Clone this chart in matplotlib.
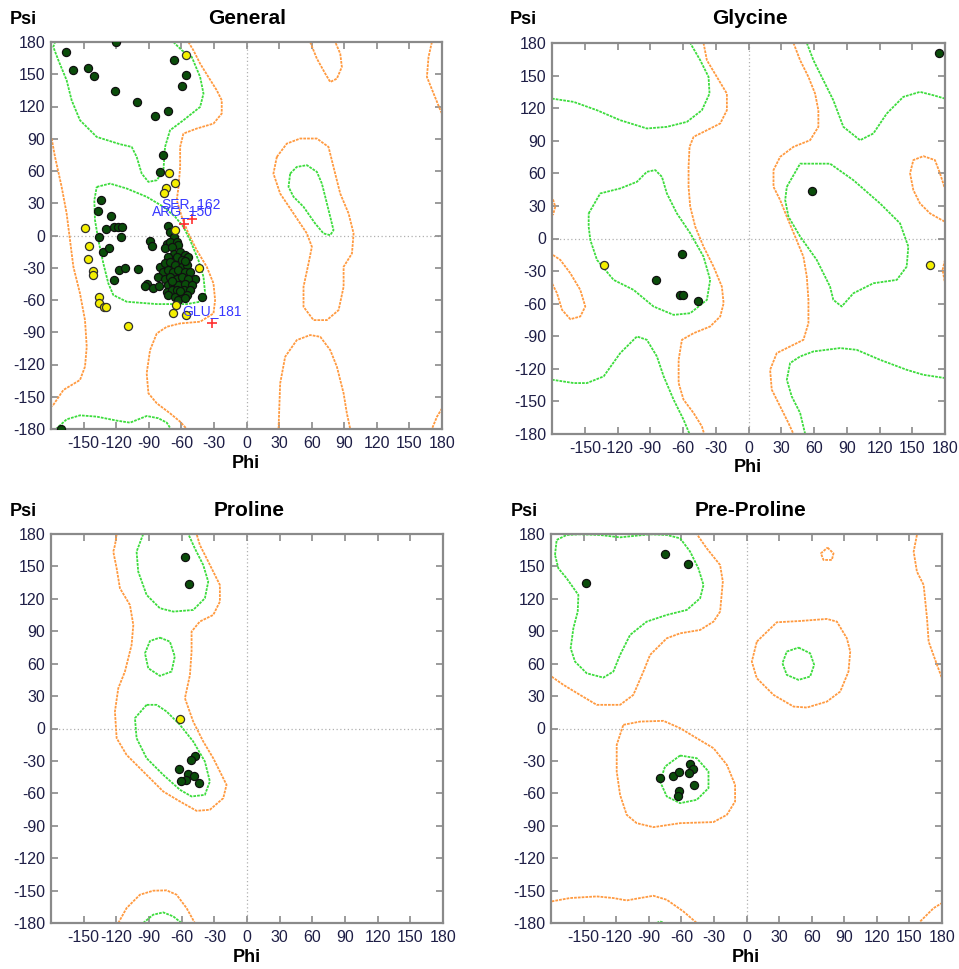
import numpy as np
import matplotlib.pyplot as plt

# ---- figure geometry (pixels) ----
W, H = 959, 969

# ---- General: residues (phi, psi) ----
gen_core = [(-120, 180), (-171, -180), (-166, 171), (-160, 154), (-146, 156), (-140, 148),
            (-121, 134), (-101, 124), (-84, 111), (-72, 116), (-67, 163), (-59, 139),
            (-56, 149), (-77, 75), (-80, 59),
            (-134, 33), (-137, 23), (-125, 18), (-129, 6), (-122, 7.5), (-118, 7.5),
            (-115, 7.5), (-136, -1), (-116, -1), (-132, -15), (-127, -11.5), (-117, -32),
            (-112, -30), (-100, -31), (-122, -41.5), (-89, -5), (-87, -10), (-92, -45),
            (-93, -47), (-86, -49), (-81, -47),
            (-72.5, 9), (-70.7, 3.4), (-66.4, -1.3), (-73.4, -7.5), (-70, -5.9), (-64.2, -5.9),
            (-62.7, -9), (-75, -12), (-68.8, -10.6), (-66.4, -16.8), (-61.2, -15.2),
            (-71.9, -19.9), (-64.2, -19.9), (-56.5, -18.3), (-53.5, -19.9), (-59.6, -23),
            (-79.6, -29.2), (-75, -26), (-70.4, -24.5), (-65.7, -27.6), (-59.6, -29.2),
            (-55, -27.6), (-76.5, -33.8), (-71.9, -32.3), (-67.3, -33.8), (-62.7, -32.3),
            (-56.5, -33.8), (-52, -33.8), (-47.3, -40), (-81.1, -38.5), (-75, -40),
            (-70.4, -38.5), (-64.2, -40), (-59.6, -38.5), (-53.5, -40), (-71.9, -46.2),
            (-67.3, -44.7), (-62.7, -46.2), (-56.5, -44.7), (-50.4, -46.2), (-73.4, -52.4),
            (-68.8, -50.9), (-64.2, -50.9), (-58, -50.9), (-51.9, -50.9), (-71.9, -55.5),
            (-65.7, -57), (-59.6, -55.5), (-55, -55.5), (-62.7, -60.1), (-56.5, -58.6),
            (-41.2, -57), (-57, -24), (-69, -42), (-61, -52)]
gen_allowed = [(-55.6, 168), (-71, 58), (-66, 48.6), (-74.3, 44), (-76, 39.7), (-65.4, 5),
               (-148.4, 7.4), (-145.3, -9.6), (-146, -22), (-141, -33), (-141, -36.5),
               (-135.8, -57), (-135.4, -63), (-131.5, -66.6), (-129, -66.6), (-108.7, -84.6),
               (-43.6, -30), (-65, -64.7), (-67.9, -72.5), (-56, -73.7)]
gen_outliers = [(-50.4, 15.8), (-57.8, 10.5), (-31.4, -81.8)]
gen_out_names = ["SER_162", "ARG_150", "GLU_181"]
gen_out_text_pos = [(-78, 29), (-86.6, 23), (-59.6, -70)]

# ---- General contours ----
gen_green = [
    [(-67.3, 180), (-59.6, 172.3), (-50.4, 166.1), (-42.7, 147.5), (-39.6, 132), (-42.7, 119.6),
     (-58.1, 107.2), (-70.4, 97.9), (-75, 82.4), (-76.5, 60.7), (-82.6, 51.4), (-90.3, 49.9),
     (-96.5, 57.6), (-101.1, 73.1), (-105.7, 82.4), (-116.4, 84.9), (-137.9, 91.7),
     (-153.3, 107.2), (-161, 125.8), (-165.6, 144.4), (-173.2, 163), (-177.9, 175.4), (-176.3, 180)],
    [(-175.4, -180), (-165.6, -171), (-153.3, -167.3), (-137.9, -168.5), (-119.5, -172.2),
     (-107.2, -174.1), (-91.9, -167.9), (-81.1, -170), (-73.4, -174.1), (-69.7, -180)],
    [(-137.9, 45.2), (-125.6, 48.3), (-110.3, 43.7), (-91.9, 36), (-76.5, 26.7), (-65.7, 17.4),
     (-58.1, 8.1), (-51.9, -4.3), (-44.3, -22.9), (-39.6, -38.4), (-38.1, -53.9), (-42.7, -61.6),
     (-55, -63.8), (-82.6, -63.8), (-110.3, -61.6), (-122.6, -55.4), (-127.2, -44.6),
     (-131.8, -26), (-136.4, -4.3), (-139.5, 14.3), (-140.1, 32.9), (-137.9, 45.2)],
    [(40.2, 57.6), (46.3, 63.8), (55.6, 65.4), (64.8, 59.2), (69.4, 48.3), (72.5, 36), (77.1, 17.4),
     (80.1, 5), (77.1, 0.3), (70.9, 1.9), (63.2, 11.2), (52.5, 26.7), (43.3, 36), (38.7, 45.2),
     (40.2, 57.6)],
]
gen_orange = [
    [(-53.5, 180), (-48.9, 172.3), (-42.7, 159.9), (-35.1, 147.5), (-27.4, 135.1), (-22.8, 125.8),
     (-22.8, 113.4), (-30.4, 104.1), (-45.8, 99.5), (-58.1, 94.8), (-61.1, 82.4), (-61.1, 63.8),
     (-62.6, 45.2), (-64.2, 32.9), (-59.6, 17.4), (-53.5, 1.9), (-45.8, -13.6), (-36.6, -29.1),
     (-30.4, -44.6), (-28.9, -60.1), (-30.4, -72.5), (-42.7, -80.2), (-61.1, -81.8),
     (-73.4, -84.9), (-82.6, -91.1), (-88.8, -106.6), (-91.9, -128.2), (-90.3, -146.8),
     (-82.6, -156.1), (-70.4, -165.4), (-61.1, -173.2), (-55, -180)],
    [(-179.4, 90.2), (-176.3, 73.1), (-170.2, 45.2), (-165.6, 20.5), (-162.5, -4.3),
     (-159.4, -29.1), (-153.3, -53.9), (-148.7, -78.7), (-147.1, -103.5), (-148.7, -122),
     (-153.3, -134.4), (-168.6, -143.7), (-177.9, -157.6), (-180, -159.2)],
    [(170.7, 180), (167.6, 166.1), (166.1, 147.5), (172.3, 132), (178.5, 116.5), (180, 113.4)],
    [(180, -160.8), (175.4, -168.5), (170.7, -180)],
    [(58.6, 180), (64.8, 164.5), (72.5, 150.6), (77.1, 142.8), (83.2, 145.9), (87.8, 156.8),
     (86.3, 169.2), (81.7, 180)],
    [(27.9, 73.1), (37.1, 85.5), (49.4, 90.2), (64.8, 90.2), (75.5, 82.4), (80.1, 63.8), (86.3, 39),
     (94, 20.5), (98.6, 1.9), (97.1, -16.7), (89.4, -29.1), (89.4, -47.7), (84.8, -69.4),
     (74, -78.7), (61.7, -78.7), (52.5, -66.3), (52.5, -47.7), (57.1, -26), (60.2, -10.5),
     (55.6, 1.9), (43.3, 20.5), (31, 39), (24.8, 57.6), (27.9, 73.1)],
    [(29.5, -180), (31, -137.5), (35.6, -112.8), (46.3, -97.3), (58.6, -92.6), (67.9, -94.2),
     (77.1, -106.6), (83.2, -122), (89.4, -146.8), (92.4, -165.4), (95.5, -180)],
]

# ---- Glycine ----
gly_core = [(174.5, 171.1), (57.9, 43.7), (-61, -14.5), (-84.8, -38.1), (-63.2, -51.9),
            (-60.1, -51.9), (-46.1, -57.4)]
gly_allowed = [(-132.7, -24.3), (165.9, -24.3)]
gly_green = [
    [(-180, 128.8), (-160.2, 125.8), (-138.8, 118.1), (-117.5, 108.9), (-93.1, 101.3),
     (-74.8, 102.8), (-56.4, 107.4), (-42.7, 118.1), (-35.7, 133.4), (-36.6, 148.8),
     (-44.2, 164.1), (-53.4, 180)],
    [(-146.4, 23.1), (-135.8, 41.5), (-117.5, 46.1), (-102.2, 52.2), (-93.1, 61.4), (-85.4, 63),
     (-79.3, 56.8), (-74.8, 41.5), (-65.6, 23.1), (-53.4, 4.9), (-41.2, -16.7), (-35.1, -38.1),
     (-38.1, -56.5), (-53.4, -68.8), (-68.6, -70.3), (-87, -62.6), (-105.3, -47.3),
     (-123.6, -38.1), (-138.8, -19.7), (-144.9, -1.4), (-146.4, 10.9), (-146.4, 23.1)],
    [(-180, -130), (-160.2, -133.1), (-148, -133.1), (-132.7, -127), (-117.5, -105.5),
     (-102.2, -90.2), (-93.1, -93.3), (-83.9, -108.6), (-77.7, -127), (-68.6, -148.4),
     (-59.5, -166.8), (-54, -180)],
    [(53.4, 180), (59.5, 164.1), (68.6, 145.7), (77.7, 127.3), (86.9, 102.8), (102.2, 90.5),
     (114.4, 96.7), (126.6, 115), (141.8, 130.4), (157.1, 135), (169.3, 131.9), (180, 128.8)],
    [(35.1, 47.6), (47.3, 68.9), (74.7, 68.9), (96.1, 53.7), (120.5, 32.3), (138.8, 14),
     (146.4, -7.4), (144.9, -25.9), (135.8, -38.1), (114.4, -41.2), (96.1, -50.4), (85.4, -62.6),
     (77.7, -56.5), (74.7, -44.3), (62.5, -19.7), (47.3, 1.8), (36.6, 20.1), (33.6, 35.4),
     (35.1, 47.6)],
    [(51.9, -180), (47.3, -160.7), (39.6, -145.4), (35.1, -130), (38.1, -114.7), (47.3, -108.6),
     (59.5, -104), (83.9, -100.9), (99.1, -102.5), (120.5, -111.7), (144.9, -120.9),
     (160.2, -125.5), (180, -128.5)],
]
gly_orange = [
    [(-41.2, 180), (-38.1, 164.1), (-29, 148.8), (-19.8, 133.4), (-19.8, 118.1), (-25.9, 105.9),
     (-38.1, 99.7), (-50.3, 93.6), (-54, 84.4), (-54.9, 66), (-54.9, 47.6), (-53.4, 29.3),
     (-48.8, 10.9), (-41.2, -7.5), (-32, -25.9), (-24.4, -44.3), (-22.8, -59.6), (-25.9, -71.8),
     (-35.1, -81), (-50.3, -87.2), (-61, -93.3), (-64, -111.7), (-64, -133.1), (-59.5, -148.4),
     (-50.3, -160.7), (-42.7, -173), (-40.6, -180)],
    [(41.2, 180), (47.3, 164.1), (54.9, 148.8), (61, 133.4), (64, 118.1), (64, 102.8),
     (56.4, 90.5), (41.2, 84.4), (29, 75.2), (22.9, 63), (22.9, 47.6), (29, 35.4), (35.1, 20.1),
     (42.7, 1.8), (50.3, -16.7), (53.4, -35.1), (54.9, -56.5), (54.9, -78), (50.3, -93.3),
     (38.1, -99.4), (25.9, -105.5), (19.8, -120.9), (21.3, -139.2), (29, -154.6),
     (36.6, -169.9), (41.2, -180)],
    [(-179.1, -15.2), (-172.4, -19.7), (-163.2, -32), (-154.1, -47.3), (-149.5, -62.6),
     (-154.1, -71.8), (-163.2, -74.3), (-170.8, -65.7), (-175.4, -50.4), (-180, -41.2)],
    [(-179.1, 36), (-177, 29.3), (-179.1, 21.6)],
    [(179.4, 47.6), (175.4, 60), (170.8, 72.2), (160.2, 75.8), (151, 72.2), (148, 60),
     (151, 44.6), (157.1, 32.3), (166.3, 23.1), (177, 17), (180, 15.5)],
    [(180, -19.7), (177.8, -28.9), (180, -41.2)],
]

# ---- Proline ----
pro_core = [(-56.7, 158.4), (-53, 133.8), (-47.8, -25), (-51.8, -29), (-62.2, -37.6),
            (-54, -42.3), (-48.8, -44.4), (-56.1, -47.5), (-60.7, -48.4), (-44.5, -50.6)]
pro_allowed = [(-61.6, 9.2)]
pro_green = [
    [(-95.3, 180), (-101.4, 163.7), (-99.9, 145.2), (-92.2, 123.6), (-80, 111.3), (-67.7, 108.2),
     (-49.4, 109.7), (-38.7, 120.5), (-35.6, 135.9), (-40.2, 151.3), (-47.9, 166.7), (-53.9, 180)],
    [(-80, 84.1), (-70.8, 80.4), (-66.3, 66.6), (-69.3, 52.7), (-80, 48.7), (-90.7, 55.8),
     (-93.7, 69.6), (-89.1, 81), (-80, 84.1)],
    [(-92.2, 21.9), (-102.9, 9.6), (-101.4, -9), (-92.2, -27.5), (-76.9, -42.9), (-61.6, -56.7),
     (-50.9, -62.9), (-38.7, -61.4), (-34.1, -49), (-38.7, -30.5), (-49.4, -12), (-61.6, 3.4),
     (-73.8, 15.7), (-83, 21.9), (-92.2, 21.9)],
    [(-95.3, -180), (-86.1, -172.3), (-76.9, -170.2), (-67.7, -173.9), (-60.1, -180)],
]
pro_orange = [
    [(-119.7, 180), (-121.2, 169.8), (-122.8, 163.7), (-119.7, 148.2), (-116.7, 129.8),
     (-107.5, 114.3), (-104.4, 95.8), (-106, 77.3), (-112.1, 52.7), (-118.2, 37.3),
     (-121.3, 15.7), (-119.7, -9), (-110.6, -24.4), (-95.3, -39.8), (-76.9, -58.3),
     (-61.6, -67.5), (-46.3, -76.2), (-34.1, -75.2), (-21.8, -64.5), (-18.8, -52.1),
     (-24.9, -39.8), (-31, -27.5), (-40.2, -12), (-49.4, 6.4), (-57, 28), (-52.4, 49.6),
     (-50.9, 71.2), (-50.9, 89.7), (-43.3, 99), (-31, 105.1), (-24.9, 117.4), (-24.9, 132.8),
     (-31, 145.2), (-37.1, 157.5), (-43.3, 169.8), (-46.3, 180)],
    [(-118.2, -180), (-110.6, -166.2), (-98.3, -153.8), (-86.1, -150.1), (-73.8, -149.8),
     (-64.7, -153.8), (-55.5, -166.2), (-47.9, -180)],
]

# ---- Pre-Proline ----
prepro_core = [(-147.4, 135), (-75.3, 161.8), (-53.8, 151.9), (-79.6, -45.6), (-67.3, -43.8),
               (-61.8, -39.8), (-52, -33), (-48.9, -37.3), (-52.5, -41.6), (-47.9, -52.1),
               (-62.4, -57.4), (-63, -62.3)]
prepro_allowed = []
prepro_green = [
    [(-176.3, 160.6), (-174.8, 174.5), (-165.6, 179.1), (-153.3, 179.7), (-134.9, 179.1),
     (-116.4, 176.9), (-101.1, 178.5), (-88.8, 179.7), (-73.4, 179.1), (-61.1, 176),
     (-51.9, 163.7), (-44.3, 148.2), (-39.6, 132.8), (-42.7, 120.5), (-55, 109.7),
     (-73.4, 105.1), (-91.9, 98.9), (-107.2, 86.6), (-116.4, 68.1), (-122.6, 52.7),
     (-131.8, 47.1), (-147.1, 51.1), (-157.9, 61.9), (-161.9, 74.3), (-159.4, 92.8),
     (-155.4, 108.2), (-154.8, 123.6), (-165.6, 139), (-173.2, 148.2), (-176.3, 160.6)],
    [(47.9, 74.9), (58.6, 69.6), (62.3, 58.9), (58.6, 48.1), (47.9, 45), (37.1, 49.6),
     (33.1, 60.4), (37.1, 71.2), (47.9, 74.9)],
    [(-61.1, -25), (-45.8, -27.5), (-35, -39.8), (-35, -55.2), (-45.8, -66), (-61.1, -69.1),
     (-73.4, -62.9), (-79.6, -49), (-75, -35.2), (-61.1, -25)],
    [(-82.6, -180), (-79.6, -178.5), (-75.9, -180)],
]
prepro_orange = [
    [(-179.4, 48), (-168.6, 40.4), (-153.3, 31.1), (-137.9, 21.9), (-116.4, 21.9), (-104.2, 31.1),
     (-94.9, 52.7), (-88.8, 68.1), (-73.4, 83.5), (-61.1, 88.1), (-42.7, 91.2), (-30.4, 98.9),
     (-24.3, 108.2), (-21.8, 135.9), (-24.3, 151.3), (-36.6, 166.7), (-45.8, 180)],
    [(9.5, 80.4), (27.9, 98.3), (49.4, 99.5), (74, 101.4), (83.2, 98.9), (92.4, 83.5),
     (95.5, 71.2), (93.9, 52.7), (86.3, 34.2), (74, 24.9), (55.6, 19.4), (43.3, 20.3),
     (24.9, 31.1), (9.5, 46.5), (4.9, 61.9), (9.5, 80.4)],
    [(-113.4, 3.4), (-98, 6.4), (-76.5, 7.1), (-61.1, 0.3), (-45.8, -9), (-30.4, -18.2),
     (-18.1, -33.6), (-10.5, -52.1), (-10.5, -67.5), (-18.1, -79.9), (-30.4, -86.6),
     (-61.1, -87.6), (-85.7, -91.3), (-101.1, -87.6), (-110.3, -79.9), (-116.4, -61.4),
     (-119.5, -39.8), (-119.5, -15.1), (-113.4, 3.4)],
    [(-179.4, -160), (-162.5, -156.9), (-137.9, -155.4), (-122.6, -156.9), (-110.3, -159.1),
     (-98, -156.9), (-85.7, -154.8), (-73.4, -158.5), (-58.1, -169.3), (-45.8, -180)],
    [(160, -178.5), (172.3, -166.2), (180, -161.5)],
    [(156.9, 179.1), (153.9, 163.7), (156.9, 145.2), (163.1, 132.8), (166.2, 102),
     (167.7, 80.4), (175.4, 58.9), (180, 46.5)],
    [(74.6, 167.4), (80.1, 162.1), (78.6, 156), (70.9, 156), (68.5, 162.1), (74.6, 167.4)],
]

xticks = list(range(-150, 181, 30))
yticks = list(range(-180, 181, 30))

GREEN = '#3ddc3d'
ORANGE = '#ff9a40'
CORE = '#0a4d0a'
YELLOW = '#f5f000'
LABEL = '#1e1e46'
FRAME = '#8a8a8a'

plt.rcParams['font.family'] = ['Liberation Sans', 'DejaVu Sans']
plt.rcParams['axes.unicode_minus'] = False

fig = plt.figure(figsize=(W / 100, H / 100), dpi=100)


def px_axes(l, t, r, b):
    return fig.add_axes([l / W, 1 - b / H, (r - l) / W, (b - t) / H])


def draw_panel(box, title, title_xy, psi_xy, phi_xy, green, orange, core, allowed,
               outliers=(), names=(), name_pos=()):
    ax = px_axes(*box)
    ax.set_xlim(-180, 180)
    ax.set_ylim(-180, 180)
    ax.axhline(0, color='#b0b0b0', lw=0.9, ls=(0, (1, 2)), zorder=1)
    ax.axvline(0, color='#b0b0b0', lw=0.9, ls=(0, (1, 2)), zorder=1)
    for line in orange:
        xs, ys = zip(*line)
        ax.plot(xs, ys, color=ORANGE, lw=1.3, ls=(0, (1.5, 0.6)), zorder=2,
                dash_joinstyle='round')
    for line in green:
        xs, ys = zip(*line)
        ax.plot(xs, ys, color=GREEN, lw=1.3, ls=(0, (1.5, 0.6)), zorder=2,
                dash_joinstyle='round')
    if allowed:
        xs, ys = zip(*allowed)
        ax.scatter(xs, ys, s=34, c=YELLOW, edgecolors='#303030', linewidths=0.9, zorder=4)
    if core:
        xs, ys = zip(*core)
        ax.scatter(xs, ys, s=34, c=CORE, edgecolors='#101010', linewidths=0.9, zorder=3)
    for (ox, oy), nm, (tx, ty) in zip(outliers, names, name_pos):
        ax.plot(ox, oy, marker='+', ms=7, mew=1.2, color='#ff3030', zorder=5)
        ax.text(tx, ty, nm, color='#3838ff', fontsize=10, ha='left', va='center', zorder=6)
    ax.set_xticks(xticks)
    ax.set_yticks(yticks)
    ax.tick_params(direction='in', length=5, width=1.2, color=FRAME, labelcolor=LABEL,
                   labelsize=11.5, top=True, right=True, pad=4)
    ax.tick_params(axis='x', pad=5)
    for sp in ax.spines.values():
        sp.set_color(FRAME)
        sp.set_linewidth(1.6)
    fig.text(title_xy[0] / W, 1 - title_xy[1] / H, title, fontsize=15, fontweight='bold',
             ha='center', va='center')
    fig.text(psi_xy[0] / W, 1 - psi_xy[1] / H, 'Psi', fontsize=13, fontweight='bold',
             ha='left', va='center')
    fig.text(phi_xy[0] / W, 1 - phi_xy[1] / H, 'Phi', fontsize=13, fontweight='bold',
             ha='center', va='center')
    return ax


draw_panel((51, 42, 442, 429), 'General', (247, 18), (10, 20), (246, 463),
           gen_green, gen_orange, gen_core, gen_allowed,
           gen_outliers, gen_out_names, gen_out_text_pos)
draw_panel((552, 43, 945, 434), 'Glycine', (750, 18), (510, 20), (748, 467),
           gly_green, gly_orange, gly_core, gly_allowed)
draw_panel((51, 534, 443, 923), 'Proline', (249, 510), (10, 512), (247, 957),
           pro_green, pro_orange, pro_core, pro_allowed)
draw_panel((551, 534, 942, 923), 'Pre-Proline', (750, 510), (511, 512), (746, 957),
           prepro_green, prepro_orange, prepro_core, prepro_allowed)

fig.savefig('out.png', dpi=100)
